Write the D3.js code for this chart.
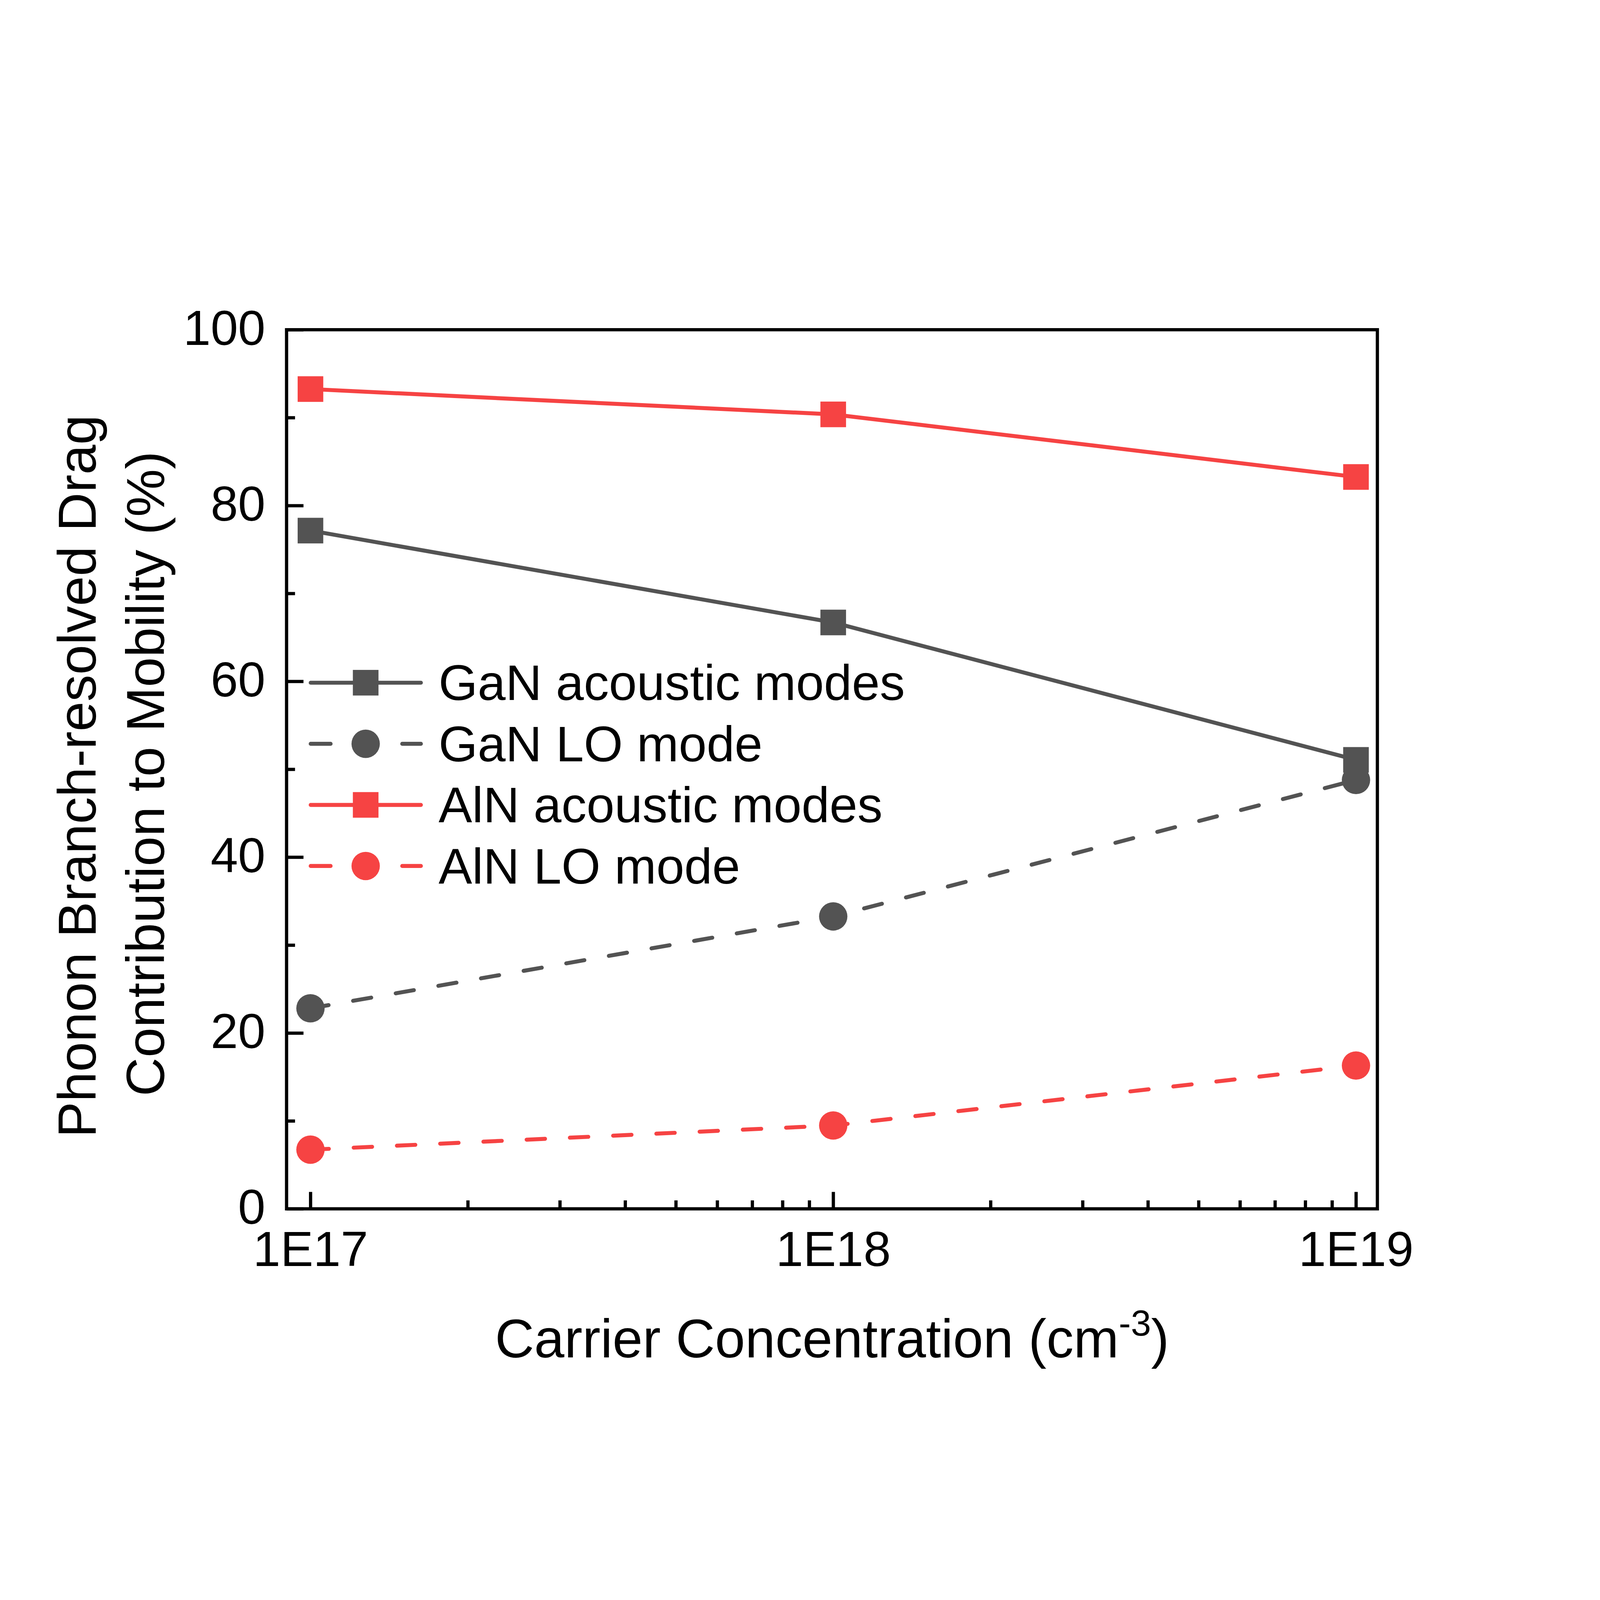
<!DOCTYPE html>
<html>
<head>
<meta charset="utf-8">
<script src="https://cdn.jsdelivr.net/npm/d3@7/dist/d3.min.js"></script>
<style>
  html, body { margin: 0; padding: 0; background: #ffffff; overflow: hidden; }
  svg { display: block; width: 100vw; height: 100vh; }
</style>
</head>
<body>
<div id="chart"></div>
<script>
// data
var concentrations = [1e17, 1e18, 1e19];
var ganAcoustic = [77.15, 66.70, 51.07];
var ganLO = [22.81, 33.26, 48.78];
var alnAcoustic = [93.25, 90.37, 83.25];
var alnLO = [6.73, 9.48, 16.30];
var seriesNames = ["GaN acoustic modes", "GaN LO mode", "AlN acoustic modes", "AlN LO mode"];
var xTickLabels = ["1E17", "1E18", "1E19"];
var yTicks = [0, 20, 40, 60, 80, 100];
var yMinorTicks = [10, 30, 50, 70, 90];

(function() {
var W = 6432, H = 4923;
var FONT = "'Liberation Sans', Arial, Helvetica, sans-serif";
var GRAY = "#535353", RED = "#F64343";
var DASH = "74,100";

// plot frame (pixels)
var pL = 1152, pR = 5537, pT = 571, pB = 4105;

var svg = d3.select("#chart").append("svg")
    .attr("viewBox", "0 0 " + W + " " + H)
    .attr("preserveAspectRatio", "xMidYMid meet");

svg.append("rect").attr("width", W).attr("height", H).attr("fill", "#fff");

var x = d3.scaleLog()
    .domain([Math.pow(10, 16.9543), Math.pow(10, 19.0409)])
    .range([pL, pR]);
var y = d3.scaleLinear()
    .domain([0, 100])
    .range([pB, pT]);

// minor ticks on the log axis: 2..9 of each decade
var xMinor = [];
[1e17, 1e18].forEach(function(d) {
    for (var k = 2; k <= 9; k++) xMinor.push(d * k);
});

var axes = svg.append("g");

// x axis
var gx = axes.append("g").attr("transform", "translate(0," + pB + ")");
gx.call(d3.axisBottom(x).tickValues(concentrations).tickSize(-68)
    .tickFormat(function(d, i) { return xTickLabels[i]; }));
var gxm = axes.append("g").attr("transform", "translate(0," + pB + ")");
gxm.call(d3.axisBottom(x).tickValues(xMinor).tickSize(-34).tickFormat(""));

// y axis
var gy = axes.append("g").attr("transform", "translate(" + pL + ",0)");
gy.call(d3.axisLeft(y).tickValues(yTicks).tickSize(-68).tickFormat(d3.format("d")));
var gym = axes.append("g").attr("transform", "translate(" + pL + ",0)");
gym.call(d3.axisLeft(y).tickValues(yMinorTicks).tickSize(-34).tickFormat(""));

axes.selectAll(".domain").remove();
axes.selectAll(".tick line").attr("stroke", "#000").attr("stroke-width", 13);
axes.selectAll("text").attr("fill", "#000").attr("font-family", FONT).attr("font-size", 198);
gx.selectAll("text").attr("dy", null).attr("y", 230).attr("text-anchor", "middle");
gy.selectAll("text").attr("dy", null).attr("x", -85).attr("y", 60).attr("text-anchor", "end");

// frame
svg.append("rect")
    .attr("x", pL).attr("y", pT)
    .attr("width", pR - pL).attr("height", pB - pT)
    .attr("fill", "none").attr("stroke", "#000").attr("stroke-width", 13);

var series = [
    { name: seriesNames[0], values: ganAcoustic, color: GRAY, dash: null, shape: "square" },
    { name: seriesNames[1], values: ganLO, color: GRAY, dash: DASH, shape: "circle" },
    { name: seriesNames[2], values: alnAcoustic, color: RED, dash: null, shape: "square" },
    { name: seriesNames[3], values: alnLO, color: RED, dash: DASH, shape: "circle" }
];

var line = d3.line()
    .x(function(d, i) { return x(concentrations[i]); })
    .y(function(d) { return y(d); });

function drawMarker(g, shape, cx, cy, color) {
    if (shape == "square") {
        g.append("rect")
            .attr("x", cx - 51.5).attr("y", cy - 51.5)
            .attr("width", 103).attr("height", 103)
            .attr("fill", color);
    } else {
        g.append("circle")
            .attr("cx", cx).attr("cy", cy).attr("r", 57)
            .attr("fill", color);
    }
}

var plot = svg.append("g");
series.forEach(function(s) {
    var g = plot.append("g");
    g.append("path")
        .datum(s.values)
        .attr("d", line)
        .attr("fill", "none")
        .attr("stroke", s.color)
        .attr("stroke-width", 16)
        .attr("stroke-linecap", s.dash ? "round" : "butt")
        .attr("stroke-dasharray", s.dash);
    s.values.forEach(function(v, i) {
        drawMarker(g, s.shape, x(concentrations[i]), y(v), s.color);
    });
});

// legend
var legend = svg.append("g");
var legendY0 = 1990, legendStep = 245.6;
series.forEach(function(s, i) {
    var ly = legendY0 + i * legendStep;
    legend.append("line")
        .attr("x1", 1249).attr("x2", 1692)
        .attr("y1", ly).attr("y2", ly)
        .attr("stroke", s.color)
        .attr("stroke-width", 16)
        .attr("stroke-linecap", "round")
        .attr("stroke-dasharray", s.dash ? "80,104" : null);
    drawMarker(legend, s.shape, 1470, ly, s.color);
    legend.append("text")
        .attr("x", 1763).attr("y", ly + 70)
        .attr("font-family", FONT).attr("font-size", 202)
        .attr("fill", "#000")
        .text(s.name);
});

// axis titles
var xt = svg.append("text")
    .attr("x", 3345).attr("y", 4703)
    .attr("text-anchor", "middle")
    .attr("font-family", FONT).attr("font-size", 218)
    .attr("fill", "#000");
xt.append("tspan").text("Carrier Concentration (cm");
xt.append("tspan").attr("font-size", 146).attr("dy", -88).text("-3");
xt.append("tspan").attr("dy", 88).text(")");

svg.append("text")
    .attr("transform", "translate(384,2366) rotate(-90)")
    .attr("text-anchor", "middle")
    .attr("font-family", FONT).attr("font-size", 216)
    .attr("fill", "#000")
    .text("Phonon Branch-resolved Drag");
svg.append("text")
    .attr("transform", "translate(660,2356) rotate(-90)")
    .attr("text-anchor", "middle")
    .attr("font-family", FONT).attr("font-size", 216)
    .attr("fill", "#000")
    .text("Contribution to Mobility (%)");
})();
</script>
</body>
</html>
